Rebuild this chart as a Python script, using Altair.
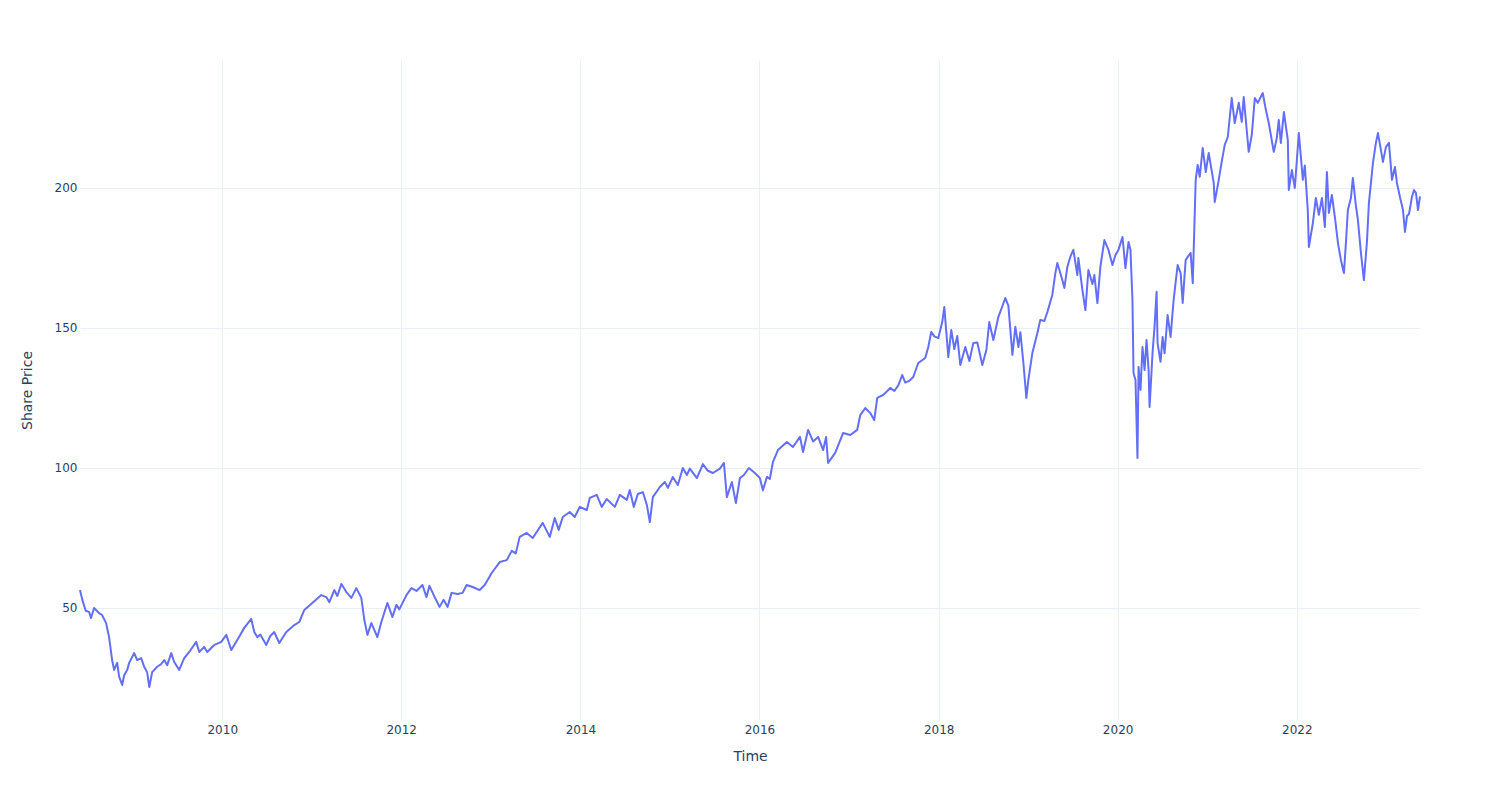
import altair as alt
import pandas as pd

# decimal year positions and share prices
years = [
    2008.412, 2008.438, 2008.476, 2008.513, 2008.535, 2008.569, 2008.624, 2008.658, 2008.703, 2008.736,
    2008.770, 2008.792, 2008.826, 2008.848, 2008.882, 2008.904, 2008.938, 2008.960, 2009.016, 2009.049,
    2009.094, 2009.128, 2009.161, 2009.184, 2009.217, 2009.273, 2009.318, 2009.351, 2009.385, 2009.430,
    2009.463, 2009.519, 2009.575, 2009.631, 2009.709, 2009.743, 2009.799, 2009.832, 2009.911, 2009.989,
    2010.045, 2010.101, 2010.168, 2010.246, 2010.324, 2010.358, 2010.391, 2010.425, 2010.492, 2010.537,
    2010.582, 2010.637, 2010.716, 2010.805, 2010.861, 2010.917, 2011.006, 2011.107, 2011.163, 2011.197,
    2011.252, 2011.286, 2011.331, 2011.387, 2011.443, 2011.498, 2011.554, 2011.588, 2011.622, 2011.666,
    2011.700, 2011.733, 2011.778, 2011.845, 2011.901, 2011.946, 2011.979, 2012.058, 2012.114, 2012.170,
    2012.237, 2012.281, 2012.315, 2012.371, 2012.427, 2012.471, 2012.516, 2012.561, 2012.628, 2012.684,
    2012.729, 2012.796, 2012.874, 2012.930, 2013.008, 2013.098, 2013.176, 2013.232, 2013.277, 2013.321,
    2013.399, 2013.467, 2013.578, 2013.657, 2013.713, 2013.757, 2013.802, 2013.880, 2013.936, 2013.992,
    2014.071, 2014.104, 2014.182, 2014.238, 2014.294, 2014.384, 2014.440, 2014.518, 2014.551, 2014.596,
    2014.641, 2014.697, 2014.742, 2014.775, 2014.809, 2014.887, 2014.943, 2014.977, 2015.032, 2015.088,
    2015.144, 2015.189, 2015.222, 2015.301, 2015.368, 2015.424, 2015.480, 2015.558, 2015.603, 2015.636,
    2015.692, 2015.737, 2015.782, 2015.826, 2015.882, 2015.949, 2016.005, 2016.038, 2016.083, 2016.116,
    2016.150, 2016.206, 2016.306, 2016.373, 2016.452, 2016.486, 2016.542, 2016.598, 2016.654, 2016.710,
    2016.743, 2016.765, 2016.844, 2016.933, 2017.012, 2017.090, 2017.124, 2017.180, 2017.236, 2017.280,
    2017.314, 2017.381, 2017.426, 2017.459, 2017.504, 2017.549, 2017.593, 2017.627, 2017.672, 2017.716,
    2017.772, 2017.850, 2017.884, 2017.917, 2017.951, 2017.996, 2018.040, 2018.063, 2018.108, 2018.141,
    2018.175, 2018.208, 2018.242, 2018.298, 2018.343, 2018.387, 2018.432, 2018.488, 2018.533, 2018.566,
    2018.611, 2018.667, 2018.745, 2018.779, 2018.824, 2018.857, 2018.891, 2018.913, 2018.947, 2018.980,
    2019.002, 2019.047, 2019.103, 2019.136, 2019.181, 2019.215, 2019.270, 2019.304, 2019.326, 2019.382,
    2019.405, 2019.438, 2019.472, 2019.505, 2019.550, 2019.561, 2019.606, 2019.640, 2019.673, 2019.718,
    2019.740, 2019.774, 2019.807, 2019.852, 2019.897, 2019.942, 2019.975, 2020.009, 2020.054, 2020.087,
    2020.121, 2020.143, 2020.165, 2020.177, 2020.199, 2020.221, 2020.233, 2020.255, 2020.277, 2020.300,
    2020.322, 2020.345, 2020.356, 2020.389, 2020.411, 2020.434, 2020.445, 2020.478, 2020.501, 2020.523,
    2020.557, 2020.590, 2020.624, 2020.669, 2020.702, 2020.725, 2020.758, 2020.781, 2020.814, 2020.837,
    2020.870, 2020.892, 2020.915, 2020.948, 2020.982, 2021.015, 2021.049, 2021.071, 2021.082, 2021.127,
    2021.160, 2021.194, 2021.228, 2021.272, 2021.306, 2021.351, 2021.384, 2021.406, 2021.462, 2021.496,
    2021.530, 2021.563, 2021.619, 2021.653, 2021.686, 2021.742, 2021.776, 2021.798, 2021.821, 2021.855,
    2021.899, 2021.910, 2021.944, 2021.977, 2022.022, 2022.067, 2022.089, 2022.122, 2022.134, 2022.179,
    2022.212, 2022.246, 2022.280, 2022.313, 2022.336, 2022.358, 2022.391, 2022.425, 2022.459, 2022.492,
    2022.526, 2022.548, 2022.570, 2022.604, 2022.626, 2022.660, 2022.682, 2022.716, 2022.749, 2022.783,
    2022.805, 2022.850, 2022.883, 2022.906, 2022.939, 2022.962, 2022.995, 2023.029, 2023.063, 2023.096,
    2023.118, 2023.152, 2023.186, 2023.208, 2023.231, 2023.253, 2023.286, 2023.309, 2023.331, 2023.354,
    2023.376,
]

prices = [
    56.4, 52.9, 49.0, 48.6, 46.4, 50.0, 48.2, 47.5, 44.6, 39.6,
    31.4, 27.9, 30.4, 25.5, 22.5, 26.0, 27.9, 30.4, 33.9, 31.4,
    32.1, 29.0, 27.0, 21.8, 27.1, 29.0, 30.0, 31.4, 29.6, 33.9,
    30.7, 27.9, 32.1, 34.3, 37.9, 34.3, 36.1, 34.3, 36.8, 37.9,
    40.4, 35.0, 38.6, 42.9, 46.1, 41.4, 39.6, 40.5, 36.8, 40.0,
    41.4, 37.5, 41.4, 43.9, 45.0, 49.3, 51.8, 54.6, 53.9, 52.1,
    56.4, 54.3, 58.6, 55.7, 53.6, 57.1, 53.6, 45.7, 40.4, 44.6,
    42.1, 39.6, 45.0, 51.8, 46.8, 51.1, 49.5, 54.6, 57.1, 56.1,
    58.2, 53.9, 57.9, 54.0, 50.4, 52.9, 50.4, 55.4, 55.0, 55.4,
    58.2, 57.5, 56.4, 58.2, 62.5, 66.4, 67.1, 70.4, 69.5, 75.4,
    76.8, 75.0, 80.4, 75.4, 82.1, 77.9, 82.5, 84.3, 82.5, 86.1,
    85.0, 89.3, 90.4, 86.1, 88.9, 86.1, 90.4, 88.6, 92.1, 86.1,
    90.7, 91.4, 86.8, 80.7, 89.6, 93.2, 95.0, 92.9, 96.8, 93.9,
    100.0, 97.5, 99.8, 96.4, 101.4, 99.0, 98.2, 99.8, 101.8, 89.6,
    95.0, 87.5, 96.4, 97.5, 100.0, 98.2, 96.4, 92.0, 96.8, 96.1,
    102.1, 106.4, 109.3, 107.5, 111.1, 105.7, 113.6, 109.5, 111.1, 106.4,
    111.1, 101.8, 105.4, 112.5, 111.8, 113.6, 118.9, 121.4, 119.6, 117.1,
    125.0, 126.1, 127.5, 128.6, 127.5, 129.5, 133.2, 130.5, 131.1, 132.5,
    137.5, 139.3, 143.2, 148.6, 147.0, 146.4, 152.1, 157.5, 139.6, 149.3,
    142.5, 147.1, 136.8, 143.2, 138.2, 144.6, 144.8, 136.8, 142.1, 152.1,
    145.7, 153.9, 160.7, 158.0, 140.4, 150.4, 143.2, 148.5, 137.5, 125.0,
    131.4, 141.1, 148.2, 152.9, 152.5, 155.7, 161.8, 169.6, 173.2, 167.1,
    164.3, 171.8, 175.5, 177.9, 168.9, 175.0, 163.6, 156.4, 170.7, 165.7,
    168.9, 158.9, 171.8, 181.4, 177.9, 172.5, 176.0, 177.9, 182.5, 171.4,
    180.7, 177.9, 160.0, 133.9, 131.4, 103.6, 136.1, 127.9, 143.2, 135.0,
    145.7, 135.0, 121.8, 141.1, 150.4, 162.9, 144.6, 137.9, 146.8, 141.0,
    154.6, 146.8, 160.0, 172.5, 169.6, 158.9, 174.3, 175.4, 176.8, 166.0,
    202.9, 208.2, 204.0, 214.3, 205.7, 212.5, 206.0, 201.8, 195.0, 202.9,
    209.3, 215.4, 218.2, 232.1, 223.2, 230.4, 223.6, 232.5, 212.9, 218.9,
    232.1, 230.4, 233.9, 228.0, 223.2, 212.9, 217.9, 224.3, 216.1, 227.1,
    217.1, 199.3, 206.4, 200.0, 219.6, 202.9, 208.0, 192.1, 178.9, 187.5,
    196.4, 190.4, 196.4, 186.1, 205.7, 191.1, 197.5, 189.6, 180.4, 174.3,
    169.6, 180.4, 192.1, 196.4, 203.6, 193.6, 188.6, 176.8, 167.1, 180.7,
    194.6, 208.9, 216.1, 219.6, 213.6, 209.3, 214.6, 216.1, 202.9, 207.5,
    201.8, 196.8, 192.1, 184.3, 190.0, 190.7, 196.8, 199.3, 198.2, 192.1,
    197.0,
]

tick_years = [2010, 2012, 2014, 2016, 2018, 2020, 2022]
y_ticks = [50, 100, 150, 200]


def to_timestamp(dec_year):
    yr = int(dec_year)
    start = pd.Timestamp(yr, 1, 1)
    end = pd.Timestamp(yr + 1, 1, 1)
    return start + (end - start) * (dec_year - yr)


df = pd.DataFrame({
    "Time": [to_timestamp(v) for v in years],
    "Share Price": prices,
})

FONT = "DejaVu Sans"
TEXT = "#2a3f5f"
GRID = "#EBF0F8"

chart = (
    alt.Chart(df)
    .mark_line(color="#636efa", strokeWidth=2, strokeJoin="round")
    .encode(
        x=alt.X(
            "Time:T",
            scale=alt.Scale(nice=False),
            axis=alt.Axis(
                title="Time",
                values=[alt.DateTime(year=y, month=1, date=1) for y in tick_years],
                format="%Y",
                grid=True,
                gridColor=GRID,
                gridWidth=1,
                domain=False,
                ticks=False,
                tickSize=0,
                labelPadding=4,
                labelFont=FONT,
                labelFontSize=12,
                labelColor=TEXT,
                titleFont=FONT,
                titleFontSize=14,
                titleFontWeight="normal",
                titleColor=TEXT,
                titlePadding=14,
            ),
        ),
        y=alt.Y(
            "Share Price:Q",
            scale=alt.Scale(domain=[10, 245.7], nice=False, zero=False),
            axis=alt.Axis(
                title="Share Price",
                values=y_ticks,
                grid=True,
                gridColor=GRID,
                gridWidth=1,
                domain=False,
                ticks=False,
                tickSize=0,
                labelPadding=3,
                labelFont=FONT,
                labelFontSize=12,
                labelColor=TEXT,
                titleFont=FONT,
                titleFontSize=14,
                titleFontWeight="normal",
                titleColor=TEXT,
                titlePadding=20,
            ),
        ),
    )
    .properties(
        width=1340,
        height=660,
        autosize=alt.AutoSizeParams(type="none"),
        padding={"left": 80, "top": 60, "right": 80, "bottom": 80},
    )
    .configure(background="white")
    .configure_view(stroke=None, strokeWidth=0)
)

chart.save("out.html", embed_options={"renderer": "svg", "actions": False})
